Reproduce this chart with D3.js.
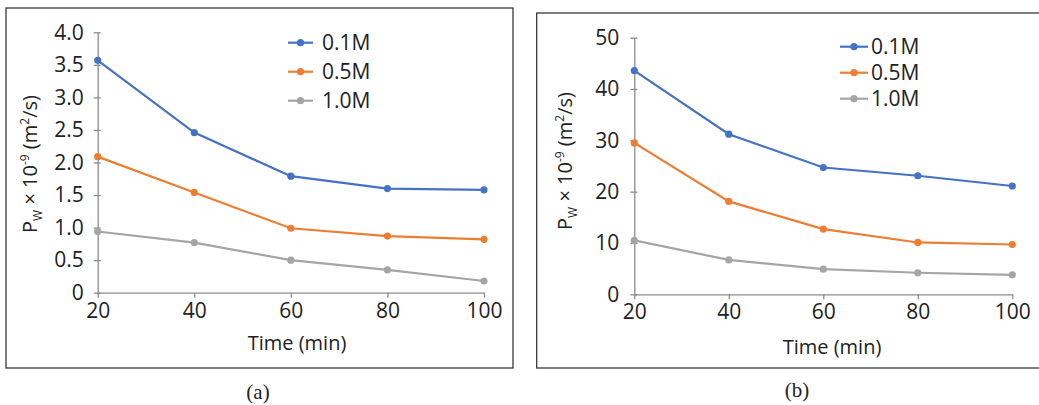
<!DOCTYPE html>
<html><head><meta charset="utf-8">
<script src="https://cdn.jsdelivr.net/npm/d3@7"></script>
<style>body{margin:0;background:#fff}svg{display:block}</style>
</head><body>
<svg id="c" width="1039" height="405"></svg>
<script>
const times = [20, 40, 60, 80, 100];
const seriesNames = ["0.1M", "0.5M", "1.0M"];
const colors = ["#4472C4", "#ED7D31", "#A5A5A5"];
const aValues01 = [3.57, 2.46, 1.79, 1.60, 1.58];
const aValues05 = [2.09, 1.54, 0.99, 0.87, 0.82];
const aValues10 = [0.94, 0.77, 0.50, 0.35, 0.18];
const bValues01 = [43.6, 31.2, 24.7, 23.1, 21.1];
const bValues05 = [29.5, 18.1, 12.7, 10.1, 9.7];
const bValues10 = [10.5, 6.7, 4.9, 4.2, 3.8];
const aYTicks = [0, 0.5, 1.0, 1.5, 2.0, 2.5, 3.0, 3.5, 4.0];
const aYLabels = ["0", "0.5", "1.0", "1.5", "2.0", "2.5", "3.0", "3.5", "4.0"];
const bYTicks = [0, 10, 20, 30, 40, 50];
const bYLabels = ["0", "10", "20", "30", "40", "50"];
const captions = ["(a)", "(b)"];

const svg = d3.select("#c");
const font = "'Open Sans', sans-serif";
const FS = 21;

function panel(cfg) {
  const g = svg.append("g");
  g.append("rect").attr("x", cfg.frame[0]).attr("y", cfg.frame[1])
    .attr("width", cfg.frame[2]).attr("height", cfg.frame[3])
    .attr("fill", "none").attr("stroke", "#3a3a3a").attr("stroke-width", 1.3);
  const x = d3.scaleLinear().domain([20, 100]).range([cfg.x0, cfg.x1]);
  const y = d3.scaleLinear().domain([0, cfg.ymax]).range([cfg.y0, cfg.y1]);
  const ya = g.append("g").attr("transform", `translate(${cfg.x0},0)`)
    .call(d3.axisLeft(y).tickValues(cfg.yTicks).tickFormat((d, i) => cfg.yLabels[i]).tickSizeInner(4).tickSizeOuter(0).tickPadding(cfg.ypad));
  ya.selectAll(".tick line").attr("x2", 3).attr("x1", -4);
  ya.select(".domain").attr("stroke", "#8c8c8c").attr("stroke-width", 1.3);
  ya.selectAll(".tick line").attr("stroke", "#8c8c8c").attr("stroke-width", 1.3);
  ya.selectAll("text").attr("font-family", font).attr("font-size", FS).attr("fill", "#222");
  const xa = g.append("g").attr("transform", `translate(0,${cfg.y0})`)
    .call(d3.axisBottom(x).tickValues(times).tickFormat(d3.format("d")).tickSizeInner(5).tickSizeOuter(0).tickPadding(5));
  xa.select(".domain").attr("stroke", "#8c8c8c").attr("stroke-width", 1.3);
  xa.selectAll(".tick line").attr("stroke", "#8c8c8c").attr("stroke-width", 1.3);
  xa.selectAll("text").attr("font-family", font).attr("font-size", FS).attr("fill", "#222");
  const line = d3.line().x((d, i) => x(times[i])).y(d => y(d));
  cfg.series.forEach((vals, s) => {
    g.append("path").attr("d", line(vals)).attr("fill", "none")
      .attr("stroke", colors[s]).attr("stroke-width", 2.2);
    g.selectAll(null).data(vals).enter().append("circle")
      .attr("cx", (d, i) => x(times[i])).attr("cy", d => y(d)).attr("r", 3.6)
      .attr("fill", colors[s]);
  });
  seriesNames.forEach((n, s) => {
    const ly = cfg.leg[1] + s * cfg.leg[3];
    g.append("line").attr("x1", cfg.leg[0]).attr("x2", cfg.leg[0] + cfg.leg[2])
      .attr("y1", ly).attr("y2", ly).attr("stroke", colors[s]).attr("stroke-width", 2.2);
    g.append("circle").attr("cx", cfg.leg[0] + cfg.leg[2] / 2).attr("cy", ly).attr("r", 3.6).attr("fill", colors[s]);
    g.append("text").attr("x", cfg.leg[0] + cfg.leg[2] + cfg.leg[4]).attr("y", ly).attr("dy", "0.35em")
      .attr("font-family", font).attr("font-size", FS).attr("fill", "#222").text(n);
  });
  g.append("text").attr("x", cfg.xt[0]).attr("y", cfg.xt[1]).attr("text-anchor", "middle")
    .attr("dy", "0.35em").attr("font-family", font).attr("font-size", 20).attr("fill", "#222").text("Time (min)");
  const yt = g.append("text").attr("transform", `translate(${cfg.yt[0]},${cfg.yt[1]}) rotate(-90)`)
    .attr("text-anchor", "middle").attr("dy", "0.35em").attr("font-family", font).attr("font-size", 20).attr("fill", "#222");
  yt.append("tspan").text("P");
  yt.append("tspan").attr("font-size", 12).attr("dy", 5).text("W");
  yt.append("tspan").attr("dy", -5).text(" × 10");
  yt.append("tspan").attr("font-size", 12).attr("dy", -8).text("-9");
  yt.append("tspan").attr("dy", 8).text(" (m");
  yt.append("tspan").attr("font-size", 12).attr("dy", -8).text("2");
  yt.append("tspan").attr("dy", 8).text("/s)");
  g.append("text").attr("x", cfg.cap[0]).attr("y", cfg.cap[1]).attr("text-anchor", "middle").attr("dy", "0.35em")
    .attr("font-family", "'Liberation Serif', serif").attr("font-size", 21).attr("fill", "#222").text(cfg.caption);
}

panel({frame: [6, 8, 507, 360], x0: 97.7, x1: 484, y0: 292.7, y1: 32.3, ymax: 4.0,
  yTicks: aYTicks, yLabels: aYLabels, ypad: 10,
  series: [aValues01, aValues05, aValues10],
  leg: [288, 42.7, 25, 29, 9], xt: [297, 343], yt: [30, 164], cap: [258, 392], caption: captions[0]});
panel({frame: [536.7, 13, 510, 355], x0: 634.3, x1: 1012.3, y0: 294.3, y1: 37.7, ymax: 50,
  yTicks: bYTicks, yLabels: bYLabels, ypad: 11,
  series: [bValues01, bValues05, bValues10],
  leg: [840, 46.7, 28, 26, 3], xt: [832, 347], yt: [565, 161], cap: [797, 390], caption: captions[1]});
</script>
</body></html>
